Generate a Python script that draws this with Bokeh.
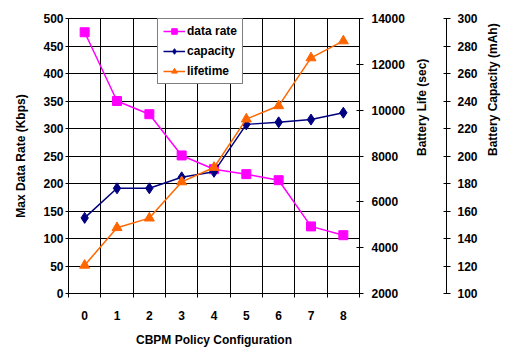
import math
from bokeh.plotting import figure
from bokeh.models import Range1d, LinearAxis, FixedTicker, Legend, LegendItem
from bokeh.embed import file_html
from bokeh.resources import INLINE

configs = [0, 1, 2, 3, 4, 5, 6, 7, 8]
data_rate = [475, 350, 326, 251, 226, 217, 206, 122, 106]
capacity = [155, 176.5, 176.5, 184.5, 188.5, 223, 224.5, 226.5, 231.5]
lifetime = [3230, 4870, 5290, 6870, 7500, 9610, 10190, 12280, 13020]

rate_ticks = list(range(0, 501, 50))
life_ticks = list(range(2000, 14001, 2000))
cap_ticks = list(range(100, 301, 20))

FONT = "Liberation Sans"
MAGENTA = "#FF00FF"
NAVY = "#000080"
ORANGE = "#FF6600"

p = figure(width=509, height=349, output_backend="svg", toolbar_location=None,
           x_range=Range1d(-0.5, 8.5), y_range=Range1d(0, 500),
           min_border_left=68, min_border_right=149, min_border_top=18, min_border_bottom=55)
p.extra_y_ranges = {"life": Range1d(2000, 14000), "cap": Range1d(100, 300)}
p.outline_line_color = "black"
p.outline_line_width = 1
p.background_fill_color = "white"
p.border_fill_color = "white"

# x axis
xa = p.xaxis[0]
xa.ticker = FixedTicker(ticks=configs, minor_ticks=[c - 0.5 for c in configs] + [8.5])
xa.major_tick_out = 0
xa.major_tick_in = 0
xa.minor_tick_out = 4
xa.minor_tick_in = 0
xa.minor_tick_line_color = "black"
xa.major_label_standoff = 13
xa.axis_label = "CBPM Policy Configuration"
xa.axis_label_standoff = 10

# left axis
ya = p.yaxis[0]
ya.ticker = FixedTicker(ticks=rate_ticks)
ya.minor_tick_line_color = None
ya.major_tick_out = 3
ya.major_tick_in = 0
ya.major_label_standoff = 2
ya.axis_label = "Max Data Rate (Kbps)"
ya.axis_label_standoff = 12

# right axes
life_axis = LinearAxis(y_range_name="life", ticker=FixedTicker(ticks=life_ticks),
                       axis_label="Battery Life (sec)", axis_label_standoff=14)
spacer = LinearAxis(y_range_name="life", ticker=FixedTicker(ticks=[8000]),
                    major_label_overrides={8000: ""},
                    axis_label=None, axis_line_color=None, major_tick_line_color=None,
                    minor_tick_line_color=None, major_tick_out=8, major_tick_in=0,
                    major_label_standoff=0)
cap_axis = LinearAxis(y_range_name="cap", ticker=FixedTicker(ticks=cap_ticks),
                      axis_label="Battery Capacity (mAh)", axis_label_standoff=12)
for ax in (life_axis, cap_axis):
    ax.minor_tick_line_color = None
    ax.major_tick_in = 3
    ax.major_tick_out = 4
life_axis.major_label_standoff = 8
cap_axis.major_label_standoff = 7
p.add_layout(life_axis, "right")
p.add_layout(spacer, "right")
p.add_layout(cap_axis, "right")

has_orient = "axis_label_orientation" in LinearAxis.properties()
for ax in (xa, ya, life_axis, cap_axis):
    ax.major_label_text_font = FONT
    ax.major_label_text_font_style = "bold"
    ax.major_label_text_font_size = "12px"
    ax.major_label_text_color = "black"
    ax.axis_label_text_font = FONT
    ax.axis_label_text_font_style = "bold"
    ax.axis_label_text_font_size = "12px"
    ax.axis_label_text_color = "black"
    ax.axis_line_color = "black"
    ax.major_tick_line_color = "black" if ax is not xa else None
for ax in (life_axis, cap_axis):
    if has_orient:
        ax.axis_label_orientation = math.pi / 2

# grids
p.xgrid[0].ticker = FixedTicker(ticks=[c - 0.5 for c in configs] + [8.5])
p.ygrid[0].ticker = FixedTicker(ticks=rate_ticks)
for g in (p.xgrid[0], p.ygrid[0]):
    g.grid_line_color = "black"
    g.grid_line_width = 1
    g.grid_line_alpha = 1

# series
r1l = p.line(configs, data_rate, line_color=MAGENTA, line_width=1.5)
r1m = p.scatter(configs, data_rate, marker="square", size=9, fill_color=MAGENTA, line_color=MAGENTA)
r2l = p.line(configs, capacity, line_color=NAVY, line_width=1.5, y_range_name="cap")
r2m = p.scatter(configs, capacity, marker="diamond", size=11, fill_color=NAVY, line_color=NAVY, y_range_name="cap")
r3l = p.line(configs, lifetime, line_color=ORANGE, line_width=1.5, y_range_name="life")
r3m = p.scatter(configs, lifetime, marker="triangle", size=10, fill_color=ORANGE, line_color=ORANGE, y_range_name="life")

legend = Legend(items=[LegendItem(label="data rate", renderers=[r1l, r1m]),
                       LegendItem(label="capacity", renderers=[r2l, r2m]),
                       LegendItem(label="lifetime", renderers=[r3l, r3m])],
                location=(89, 209))
legend.label_text_font = FONT
legend.label_text_font_style = "bold"
legend.label_text_font_size = "12px"
legend.label_text_color = "black"
legend.label_standoff = 2
legend.glyph_width = 22
legend.glyph_height = 14
legend.label_height = 14
legend.spacing = 6
legend.padding = 5
legend.margin = 0
legend.border_line_color = "black"
legend.border_line_width = 1
legend.background_fill_color = "white"
legend.background_fill_alpha = 1
p.add_layout(legend, "center")

open("out.html", "w").write(file_html(p, INLINE))
